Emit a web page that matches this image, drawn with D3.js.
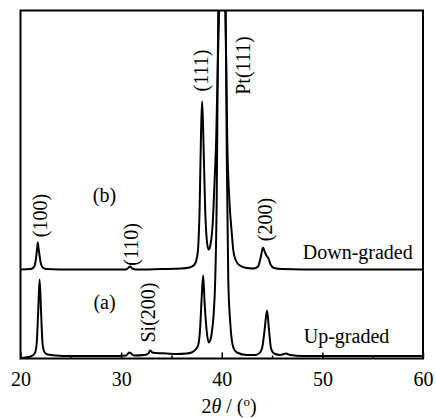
<!DOCTYPE html>
<html lang="en">
<head>
  <title>XRD patterns - graded films</title>
  <meta charset="utf-8" />
  <script src="https://cdnjs.cloudflare.com/ajax/libs/d3/7.8.5/d3.min.js"></script>
  <style>
    body { margin: 0; background: #fff; }
    svg { display: block; font-family: "Liberation Serif", "Times New Roman", serif; }
  </style>
</head>
<body>
<svg id="chart" width="436" height="418"></svg>
<script>
  // 2theta (deg), intensity (a.u., offset patterns as plotted)
  const upGraded = [
    [20.0, 0.5], [20.5, 1], [21.0, 2], [21.4, 5], [21.6, 14], [21.75, 45], [21.9, 79],
    [22.05, 45], [22.2, 14], [22.4, 6], [22.7, 4], [23.5, 3], [25, 2.5], [27, 2.5],
    [29, 2.5], [30.5, 3], [30.8, 6], [31.0, 5], [31.3, 3], [32.3, 3.5], [32.7, 5],
    [32.9, 8], [33.1, 6], [33.5, 5.5], [34.5, 5], [35.5, 4.5], [36.5, 5], [37.0, 6],
    [37.4, 9], [37.65, 13], [37.85, 30], [38.0, 60], [38.15, 83], [38.3, 55], [38.5, 28],
    [38.7, 16], [38.85, 18], [39.0, 25], [39.2, 45], [39.35, 78], [39.5, 160], [39.65, 348],
    [40.0, 1200], [40.4, 348], [40.5, 200], [40.65, 78], [40.85, 35], [41.15, 11],
    [41.5, 6], [42.5, 3.5], [43.3, 3.5], [43.7, 5], [44.0, 10], [44.25, 28], [44.5, 48],
    [44.7, 28], [44.9, 10], [45.2, 5], [45.8, 3.5], [46.4, 5], [46.8, 3.5], [48, 2.5],
    [50, 2.5], [55, 2.5], [60, 2.5]
  ];

  const downGraded = [
    [20, 89], [21.0, 89.5], [21.3, 91], [21.5, 97], [21.65, 110], [21.72, 116], [21.8, 110],
    [22.0, 96], [22.2, 91], [22.6, 89.5], [25, 89], [28, 89], [30.5, 89], [30.75, 91],
    [30.9, 92], [31.1, 90], [31.5, 89], [34, 89.5], [36, 90], [36.8, 91], [37.3, 94],
    [37.6, 105], [37.8, 150], [37.95, 230], [38.05, 257], [38.15, 230], [38.35, 150],
    [38.55, 115], [38.7, 109], [38.9, 115], [39.1, 135], [39.3, 180], [39.45, 220],
    [39.6, 290], [39.8, 400], [40.05, 1300], [40.3, 400], [40.45, 290], [40.55, 218],
    [40.75, 160], [41.0, 125], [41.15, 108], [41.4, 98], [41.8, 93], [42.5, 90.5],
    [43.2, 90], [43.6, 92], [43.85, 100], [44.1, 111], [44.3, 106], [44.5, 102],
    [44.65, 100], [44.85, 94], [45.2, 90.5], [46, 89.5], [50, 89], [60, 89]
  ];

  const majorTicks = [20, 30, 40, 50, 60];
  const minorTicks = [25, 35, 45, 55];

  // peak annotations: [2theta, intensity at label centre, text]
  const peakLabels = [
    [21.95, 143, "(100)"],
    [30.95, 114, "(110)"],
    [37.95, 288, "(111)"],
    [42.1, 293, "Pt(111)"],
    [44.3, 139, "(200)"],
    [32.7, 46, "Si(200)"]
  ];

  const curveNames = [
    [28.35, 157, "(b)"],
    [28.35, 50, "(a)"],
    [48.05, 100, "Down-graded"],
    [48.15, 16, "Up-graded"]
  ];

  const svg = d3.select("#chart");
  const mLeft = 20.5, mRight = 423, mTop = 10.5, mBottom = 358.5;

  const x = d3.scaleLinear().domain([20, 60]).range([mLeft, mRight]);
  const y = d3.scaleLinear().domain([0, 348]).range([mBottom, mTop]);

  svg.append("clipPath").attr("id", "plotClip")
    .append("rect")
    .attr("x", mLeft).attr("y", mTop)
    .attr("width", mRight - mLeft).attr("height", mBottom - mTop);

  const line = d3.line()
    .x(function(d) { return x(d[0]); })
    .y(function(d) { return y(d[1]); })
    .curve(d3.curveMonotoneX);

  const plot = svg.append("g").attr("clip-path", "url(#plotClip)");
  [upGraded, downGraded].forEach(function(s) {
    plot.append("path")
      .datum(s)
      .attr("d", line)
      .attr("fill", "none")
      .attr("stroke", "#000")
      .attr("stroke-width", 2)
      .attr("stroke-linejoin", "round");
  });

  // frame
  svg.append("rect")
    .attr("x", mLeft).attr("y", mTop)
    .attr("width", mRight - mLeft).attr("height", mBottom - mTop)
    .attr("fill", "none")
    .attr("stroke", "#000")
    .attr("stroke-width", 2);

  const xAxis = svg.append("g")
    .attr("transform", "translate(0," + mBottom + ")")
    .call(d3.axisBottom(x).tickValues(majorTicks).tickSizeInner(-6).tickSizeOuter(0).tickPadding(13).tickFormat(d3.format("d")));
  xAxis.select(".domain").remove();
  xAxis.selectAll("line").attr("stroke", "#000").attr("stroke-width", 1.5);
  xAxis.selectAll("text")
    .attr("fill", "#000")
    .style("font-size", "20px")
    .style("font-family", "'Liberation Serif', 'Times New Roman', serif");

  const xMinor = svg.append("g")
    .attr("transform", "translate(0," + mBottom + ")")
    .call(d3.axisBottom(x).tickValues(minorTicks).tickSizeInner(-3).tickSizeOuter(0).tickFormat(""));
  xMinor.select(".domain").remove();
  xMinor.selectAll("line").attr("stroke", "#000").attr("stroke-width", 1.5);

  // x title: 2θ / (°)
  const title = svg.append("text")
    .attr("x", 229)
    .attr("y", 413)
    .attr("text-anchor", "middle")
    .style("font-size", "20px");
  title.append("tspan").text("2");
  title.append("tspan").style("font-style", "italic").text("θ");
  title.append("tspan").text(" / (");
  title.append("tspan").attr("dy", -7).style("font-size", "13px").text("o");
  title.append("tspan").attr("dy", 7).text(")");

  svg.selectAll(".peak")
    .data(peakLabels)
    .enter()
    .append("text")
    .attr("class", "peak")
    .attr("transform", function(d) { return "translate(" + x(d[0]) + "," + y(d[1]) + ") rotate(-90)"; })
    .attr("text-anchor", "middle")
    .attr("dy", "0.35em")
    .style("font-size", "20px")
    .text(function(d) { return d[2]; });

  svg.selectAll(".name")
    .data(curveNames)
    .enter()
    .append("text")
    .attr("class", "name")
    .attr("x", function(d) { return x(d[0]); })
    .attr("y", function(d) { return y(d[1]); })
    .attr("text-anchor", function(d) { return d[2].length > 3 ? "start" : "middle"; })
    .style("font-size", "20px")
    .text(function(d) { return d[2]; });
</script>
</body>
</html>
